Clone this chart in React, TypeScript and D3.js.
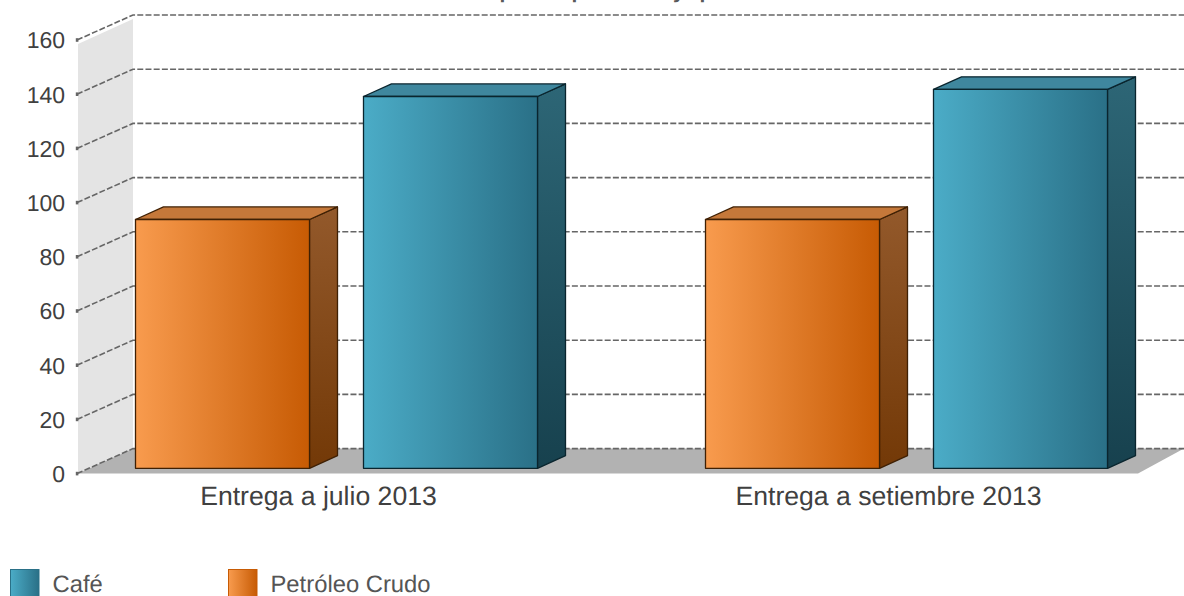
import React from "react";
import * as d3 from "d3";

const categories = ["Entrega a julio 2013", "Entrega a setiembre 2013"];
const seriesNames = ["Petróleo Crudo", "Café"];
const petroleoValues = [91.8, 91.8];
const cafeValues = [137.2, 139.8];
const yTicks = [0, 20, 40, 60, 80, 100, 120, 140, 160];
const legendOrder = ["Café", "Petróleo Crudo"];
// Only the descenders of the title are inside the picture; these are the letters they belong to.
const titleLetters = [
  { ch: "p", at: 499.5 },
  { ch: "p", at: 571.5 },
  { ch: "y", at: 673 },
  { ch: "p", at: 699.5 },
];

const W = 1184;
const H = 596;
const FONT = "'Liberation Sans', Arial, sans-serif";
const DEPTH_X = 56;
const DEPTH_Y = -25;
const BAR_DX = 28;
const BAR_DY = -12.6;

const yAxis = d3.scaleLinear().domain([0, 160]).range([473.6, 40]);
const yBar = d3.scaleLinear().domain([0, 160]).range([468.3, 34.7]);
const x0 = d3.scaleBand<string>().domain(categories).range([51.5, 1191.5]);
const x1 = d3
  .scaleBand<string>()
  .domain(seriesNames)
  .range([84, 486])
  .paddingInner(2 - 402 / 228);

const palette: Record<string, any> = {
  "Petróleo Crudo": {
    id: "o",
    from: "#f89b4e",
    to: "#c75b04",
    top: "#c5783a",
    sideFrom: "#93592b",
    sideTo: "#733907",
    stroke: "#3f2004",
  },
  "Café": {
    id: "t",
    from: "#4bacc7",
    to: "#2a7087",
    top: "#3f879e",
    sideFrom: "#2d6676",
    sideTo: "#17414e",
    stroke: "#0a252e",
  },
};

const poly = (pts: number[][]) => pts.map((p) => p.join(",")).join(" ");

function Bar({ cat, name, value }: { cat: string; name: string; value: number }) {
  const c = palette[name];
  const x = (x0(cat) as number) + (x1(name) as number);
  const w = x1.bandwidth();
  const t = yBar(value);
  const b = yBar(0);
  return (
    <g stroke={c.stroke} strokeWidth={1.3} strokeLinejoin="round">
      <polygon
        points={poly([[x + w, t], [x + w + BAR_DX, t + BAR_DY], [x + w + BAR_DX, b + BAR_DY], [x + w, b]])}
        fill={`url(#${c.id}Side)`}
      />
      <polygon
        points={poly([[x, t], [x + BAR_DX, t + BAR_DY], [x + w + BAR_DX, t + BAR_DY], [x + w, t]])}
        fill={c.top}
      />
      <rect x={x} y={t} width={w} height={b - t} fill={`url(#${c.id}Front)`} />
    </g>
  );
}

export default function App() {
  const left = 78;
  const floorRight = 1138;
  const y0 = yAxis(0);
  const yTop = yAxis(160) + 4;
  return (
    <svg
      width={W}
      height={H}
      viewBox={`0 0 ${W} ${H}`}
      style={{ position: "absolute", left: 0, top: 0, display: "block", textRendering: "geometricPrecision" }}
      fontFamily={FONT}
    >
      <defs>
        {seriesNames.map((n) => {
          const c = palette[n];
          return (
            <React.Fragment key={n}>
              <linearGradient id={`${c.id}Front`} x1="0" x2="1" y1="0" y2="0">
                <stop offset="0" stopColor={c.from} />
                <stop offset="1" stopColor={c.to} />
              </linearGradient>
              <linearGradient id={`${c.id}Side`} x1="0" x2="0" y1="0" y2="1">
                <stop offset="0" stopColor={c.sideFrom} />
                <stop offset="1" stopColor={c.sideTo} />
              </linearGradient>
            </React.Fragment>
          );
        })}
      </defs>
      <rect width={W} height={H} fill="#fff" />

      <text fontSize={21} fontWeight="bold" fill="#595959" y={-2.2}>
        {titleLetters.map((l, i) => (
          <tspan key={i} x={l.at}>
            {l.ch}
          </tspan>
        ))}
      </text>

      <polygon
        points={poly([[left, yTop], [left + DEPTH_X - 1, yTop + DEPTH_Y], [left + DEPTH_X - 1, y0 + DEPTH_Y], [left, y0]])}
        fill="#e4e4e4"
      />
      <polygon
        points={poly([[left, y0], [left + DEPTH_X - 1, y0 + DEPTH_Y], [W, y0 + DEPTH_Y], [floorRight, y0]])}
        fill="#b2b2b2"
      />

      {yTicks.map((v) => {
        const y = yAxis(v);
        return (
          <g key={v}>
            <path
              d={`M${left - 1},${y}L${left + DEPTH_X - 1},${y + DEPTH_Y}L${W},${y + DEPTH_Y}`}
              fill="none"
              stroke="#666"
              strokeWidth={1.6}
              strokeDasharray="6,2.2"
            />
            <rect x={75.8} y={y - 1.8} width={2.6} height={3.6} fill="#666" />
            <text x={65} y={y + 8.4} textAnchor="end" fontSize={23} fill="#404040">
              {v}
            </text>
          </g>
        );
      })}

      {categories.map((cat, i) => (
        <g key={cat}>
          <Bar cat={cat} name="Petróleo Crudo" value={petroleoValues[i]} />
          <Bar cat={cat} name="Café" value={cafeValues[i]} />
          <text
            x={(x0(cat) as number) + x0.bandwidth() / 2 - 18}
            y={505}
            textAnchor="middle"
            fontSize={26.6}
            fill="#404040"
          >
            {cat}
          </text>
        </g>
      ))}

      {legendOrder.map((n, i) => {
        const c = palette[n];
        const x = 10 + i * 218;
        return (
          <g key={n}>
            <rect x={x + 0.5} y={569.5} width={28.5} height={29} fill={`url(#${c.id}Front)`} stroke={c.to} strokeWidth={1} />
            <text x={x + 42.5} y={592} fontSize={23.8} fill="#555">
              {n}
            </text>
          </g>
        );
      })}
    </svg>
  );
}
